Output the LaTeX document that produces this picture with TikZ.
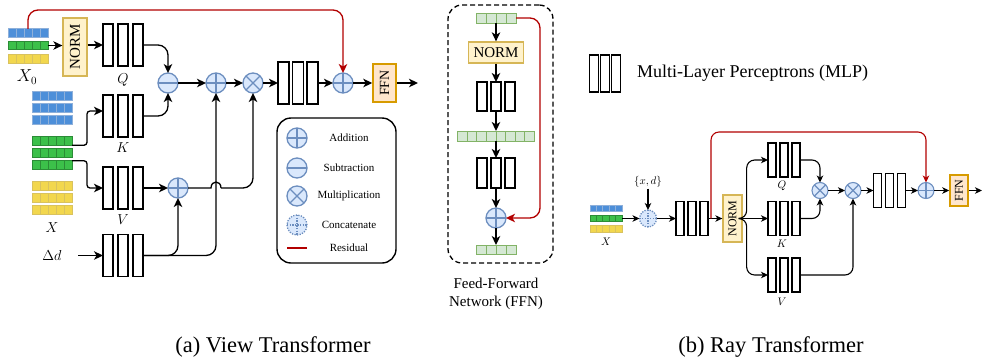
\documentclass[tikz,border=0pt]{standalone}
\usepackage{fontspec}
\setmainfont{Liberation Serif}
\usetikzlibrary{arrows.meta,calc}
\definecolor{opblue}{HTML}{6C8EBF}
\definecolor{opfill}{HTML}{DAE8FC}
\definecolor{normfill}{HTML}{FFF2CC}
\definecolor{normdraw}{HTML}{D6B656}
\definecolor{ffnfill}{HTML}{FFE6CC}
\definecolor{ffndraw}{HTML}{D79B00}
\definecolor{resred}{HTML}{B20000}
\definecolor{tbfill}{HTML}{4D8FD9}
\definecolor{tbdraw}{HTML}{8EB0DA}
\definecolor{tgfill}{HTML}{3CC04A}
\definecolor{tgdraw}{HTML}{2B8C36}
\definecolor{tyfill}{HTML}{F2D74E}
\definecolor{tydraw}{HTML}{D9C25E}
\definecolor{tffill}{HTML}{D5E8D4}
\definecolor{tfdraw}{HTML}{82B366}

\newcommand{\mlpnode}[7]{%
  \node[inner sep=0pt, outer sep=0pt, minimum width={2*#5+#4}, minimum height=#6] (#1) at (#2,#3) {};
  \foreach \k in {-1,0,1}{\draw[#7] ({#2+\k*#5-#4/2},{#3-#6/2}) rectangle ({#2+\k*#5+#4/2},{#3+#6/2});}
}
\newcommand{\tokrow}[7]{%
  \node[inner sep=0pt, outer sep=0pt, anchor=west, minimum width={#4*#5}, minimum height=#6] (#1) at (#2,#3) {};
  \foreach \k in {1,...,#4}{\draw[#7] ({#2+(\k-1)*#5},{#3-#6/2}) rectangle ++(#5,#6);}
}

\begin{document}
\begin{tikzpicture}[x=1pt,y=-1pt,
  f11/.style={font=\fontsize{11}{13}\selectfont},
  f12/.style={font=\fontsize{12}{14}\selectfont},
  f14/.style={font=\fontsize{14}{17}\selectfont},
  f15/.style={font=\fontsize{15}{18}\selectfont},
  f16/.style={font=\fontsize{16}{19}\selectfont},
  f18/.style={font=\fontsize{18}{21}\selectfont},
  f23/.style={font=\fontsize{22.5}{26}\selectfont},
  op/.style={circle, draw=opblue, fill=opfill, line width=1.3pt, inner sep=0pt, outer sep=0pt, minimum size=20pt},
  small/.style={minimum size=16pt, line width=1.1pt},
  opadd/.style={op, path picture={\draw[opblue, line width=1.3pt] (path picture bounding box.north) -- (path picture bounding box.south) (path picture bounding box.west) -- (path picture bounding box.east);}},
  opsub/.style={op, path picture={\draw[opblue, line width=1.3pt] (path picture bounding box.west) -- (path picture bounding box.east);}},
  opmul/.style={op, path picture={\draw[opblue, line width=1.3pt] (path picture bounding box.north west) -- (path picture bounding box.south east) (path picture bounding box.north east) -- (path picture bounding box.south west);}},
  opcat/.style={op, dash pattern=on 1.3pt off 1.3pt, path picture={\draw[opblue, line width=1.3pt, dash pattern=on 1.3pt off 1.3pt] (path picture bounding box.north) -- (path picture bounding box.south) (path picture bounding box.west) -- (path picture bounding box.east);}},
  normbox/.style={draw=normdraw, fill=normfill, line width=1.3pt, inner sep=0pt},
  ffnbox/.style={draw=ffndraw, fill=ffnfill, line width=1.5pt, inner sep=0pt},
  mlpbar/.style={draw=black, line width=1.6pt, fill=white},
  mlpbarS/.style={draw=black, line width=1.3pt, fill=white},
  tokb/.style={fill=tbfill, draw=tbdraw, line width=0.9pt},
  tokg/.style={fill=tgfill, draw=tgdraw, line width=0.9pt},
  toky/.style={fill=tyfill, draw=tydraw, line width=0.9pt},
  tokf/.style={fill=tffill, draw=tfdraw, line width=0.9pt},
  line/.style={line width=1.3pt},
  arr/.style={-{Stealth[length=9pt,width=8.5pt,inset=2.5pt]}, line width=1.3pt, rounded corners=10pt},
  arrs/.style={-{Stealth[length=7pt,width=6.5pt,inset=2pt]}, line width=1.1pt, rounded corners=8pt},
  res/.style={draw=resred, color=resred, -{Stealth[length=9pt,width=8.5pt,inset=2.5pt]}, line width=1.3pt, rounded corners=10pt},
  ress/.style={draw=resred, color=resred, -{Stealth[length=7pt,width=6.5pt,inset=2pt]}, line width=1.1pt, rounded corners=8pt},
]
\useasboundingbox (0,0) rectangle (982,360);

% ---------------- (a) View Transformer ----------------
\tokrow{x0b}{8}{33}{5}{8}{8.5}{tokb}
\tokrow{x0g}{8}{45.5}{5}{8}{8.5}{tokg}
\tokrow{x0y}{8}{59}{5}{8}{8.5}{toky}
\node[f16] (x0lab) at (27,77) {$X_0$};
\node[normbox, minimum width=24, minimum height=58, f15] (norm1) at (75,47) {\rotatebox{90}{NORM}};
\mlpnode{q1}{123}{45}{10}{15}{42}{mlpbar}
\node[f14] (qlab) at (123,80) {$Q$};

\tokrow{bx1}{32}{96}{5}{8}{8.5}{tokb}
\tokrow{bx2}{32}{108}{5}{8}{8.5}{tokb}
\tokrow{bx3}{32}{120}{5}{8}{8.5}{tokb}
\tokrow{gx1}{32}{141}{5}{8}{8.5}{tokg}
\tokrow{gx2}{32}{153}{5}{8}{8.5}{tokg}
\tokrow{gx3}{32}{165}{5}{8}{8.5}{tokg}
\tokrow{yx1}{32}{186}{5}{8}{8.5}{toky}
\tokrow{yx2}{32}{198}{5}{8}{8.5}{toky}
\tokrow{yx3}{32}{210}{5}{8}{8.5}{toky}
\node[f14] (xlab) at (52,228) {$X$};

\mlpnode{k1}{123}{116}{10}{15}{42}{mlpbar}
\node[f14] (klab) at (123,148) {$K$};
\mlpnode{v1}{123}{188}{10}{15}{42}{mlpbar}
\node[f14] (vlab) at (123,220) {$V$};
\mlpnode{d1}{123}{255.5}{10}{15}{42}{mlpbar}
\node[f15] (dlab) at (52,255) {$\Delta d$};
\coordinate (din) at (78,255.5);

\node[opsub] (sub) at (168,83) {};
\node[opadd] (add1) at (216,83) {};
\node[opmul] (mul1) at (253,83) {};
\node[opadd] (addv) at (178,188) {};
\mlpnode{m4}{298}{83}{11}{14.5}{42}{mlpbar}
\node[opadd] (add2) at (343,83) {};
\node[ffnbox, minimum width=23, minimum height=38, f14] (ffn1) at (384.5,83) {\rotatebox{90}{FFN}};
\coordinate (out1) at (418,83);

\draw[arr] (x0g.east) -- (norm1.west |- x0g.east);
\draw[arr] (norm1.east |- q1.west) -- (q1.west);
\draw[arr] (q1.east) -| (sub.north);
\draw[arr] (k1.east) -| (sub.south);
\draw[arr, rounded corners=3pt] (gx1.south east) -- ++(15,0) |- ([yshift=5pt]k1.west);
\draw[arr, rounded corners=3pt] (gx3.north east) -- ++(15,0) |- (v1.west);
\draw[arr] (din) -- (d1.west);
\draw[arr] (sub.east) -- (add1.west);
\draw[arr] (add1.east) -- (mul1.west);
\draw[arr] (mul1.east) -- (m4.west);
\draw[arr] (v1.east) -- (addv.west);
\draw[arr] (d1.east) -| (addv.south);
\draw[arr] (d1.east) -| (add1.south);
\coordinate (j1) at (add1.south |- addv.east);
\draw[line] (addv.east) -- ([xshift=-5pt]j1) .. controls ([xshift=-5pt,yshift=8pt]j1) and ([xshift=5pt,yshift=8pt]j1) .. ([xshift=5pt]j1);
\draw[arr] ([xshift=5pt]j1) -| (mul1.south);
\draw[arr] (m4.east) -- (add2.west);
\draw[arr] (add2.east) -- (ffn1.west);
\draw[arr] (ffn1.east) -- (out1);
\draw[res] (x0b.north) -- (x0b.north |- 0,10) -| (add2.north);

% legend
\node[draw, line width=1.4pt, rounded corners=14pt, minimum width=119, minimum height=145, inner sep=0pt] (legend) at (336.5,190.5) {};
\node[opadd] (lga) at (297,138) {};
\node[f11] (lgat) at (349,138) {Addition};
\node[opsub] (lgs) at (297,168) {};
\node[f11] (lgst) at (349,168) {Subtraction};
\node[opmul] (lgm) at (297,196) {};
\node[f11] (lgmt) at (349,196) {Multiplication};
\node[opcat] (lgc) at (297,225) {};
\node[f11] (lgct) at (349,225) {Concatenate};
\coordinate (lgr1) at (287,248);
\coordinate (lgr2) at (307,248);
\draw[resred, line width=1.5pt] (lgr1) -- (lgr2);
\node[f11] (lgrt) at (349,248) {Residual};

% ---------------- FFN panel ----------------
\node[draw, line width=1.3pt, dash pattern=on 5pt off 3pt, rounded corners=14pt, minimum width=105, minimum height=258, inner sep=0pt] (ffnpanel) at (500.5,134) {};
\tokrow{ft}{476}{18}{4}{10}{10}{tokf}
\node[normbox, minimum width=55, minimum height=21, f15] (fnorm) at (496,52.5) {NORM};
\mlpnode{fm1}{496}{96.5}{10.5}{14}{29}{mlpbar}
\tokrow{fmid}{457.5}{136}{8}{9.625}{10}{tokf}
\mlpnode{fm2}{496}{173}{10.5}{14}{30}{mlpbar}
\node[opadd] (fadd) at (496,218) {};
\tokrow{fb}{476}{249.5}{4}{10}{9}{tokf}
\draw[arr] (ft.south) -- (fnorm.north);
\draw[arr] (fnorm.south) -- (fm1.north);
\draw[arr] (fm1.south) -- (fmid.north);
\draw[arr] (fmid.south) -- (fm2.north);
\draw[arr] (fm2.south) -- (fadd.north);
\draw[arr] (fadd.south) -- (fb.north);
\draw[res] (ft.east) -| ([xshift=34pt]fadd.east) -- (fadd.east);
\node[f15, align=center] (ffnlab) at (496,294) {Feed-Forward\\Network (FFN)};

% MLP legend
\mlpnode{mlpleg}{605}{73.5}{9}{11.3}{37}{mlpbarS}
\node[f18, anchor=west, inner sep=0pt] (mlplab) at (637,73.5) {Multi-Layer Perceptrons (MLP)};

% ---------------- (b) Ray Transformer ----------------
\tokrow{rb}{590}{208.5}{5}{6.4}{6.5}{tokb}
\tokrow{rg}{590}{218.5}{5}{6.4}{6.5}{tokg}
\tokrow{ry}{590}{229}{5}{6.4}{6.5}{toky}
\node[f11] (rxlab) at (606,242) {$X$};
\node[opcat, minimum size=17pt] (cat) at (648,218.5) {};
\node[f11, inner sep=1pt] (xd) at (648,182) {$\{x,d\}$};
\mlpnode{rm1}{692}{218.5}{8}{12}{34}{mlpbarS}
\node[normbox, minimum width=19, minimum height=47, f12] (rnorm) at (732.5,218.5) {\rotatebox{90}{NORM}};
\mlpnode{rq}{784}{160}{8}{12}{34}{mlpbarS}
\mlpnode{rk}{784}{218.5}{8}{12}{34}{mlpbarS}
\mlpnode{rv}{784}{275}{8}{12}{34}{mlpbarS}
\node[f11] (rqlab) at (782,186) {$Q$};
\node[f11] (rklab) at (782,244) {$K$};
\node[f11] (rvlab) at (782,302) {$V$};
\node[opmul, small] (rmul1) at (820,190.5) {};
\node[opmul, small] (rmul2) at (853,190.5) {};
\mlpnode{rm4}{889.5}{190.5}{8}{12}{34}{mlpbarS}
\node[opadd, small] (radd) at (926,190.5) {};
\node[ffnbox, minimum width=18, minimum height=31, f12] (rffn) at (959,190.5) {\rotatebox{90}{FFN}};
\coordinate (out2) at (982,190.5);

\draw[arrs] (rg.east) -- (cat.west);
\draw[arrs] (xd.south) -- (cat.north);
\draw[arrs] (cat.east) -- (rm1.west);
\draw[arrs] (rm1.east) -- (rnorm.west);
\draw[arrs] (rnorm.east) -- ++(4,0) |- (rq.west);
\draw[arrs] (rnorm.east) -- (rk.west);
\draw[arrs] (rnorm.east) -- ++(4,0) |- (rv.west);
\draw[arrs] (rq.east) -| (rmul1.north);
\draw[arrs] (rk.east) -| (rmul1.south);
\draw[arrs] (rv.east) -| (rmul2.south);
\draw[arrs] (rmul1.east) -- (rmul2.west);
\draw[arrs] (rmul2.east) -- (rm4.west);
\draw[arrs] (rm4.east) -- (radd.west);
\draw[arrs] (radd.east) -- (rffn.west);
\draw[arrs] (rffn.east) -- (out2);
\coordinate (rr) at ([xshift=3pt]rm1.east);
\draw[ress] (rr) -- (rr |- 0,132) -| (radd.north);

% captions
\node[f23] (capa) at (273,347) {(a) View Transformer};
\node[f23] (capb) at (771,347) {(b) Ray Transformer};
\end{tikzpicture}
\end{document}
